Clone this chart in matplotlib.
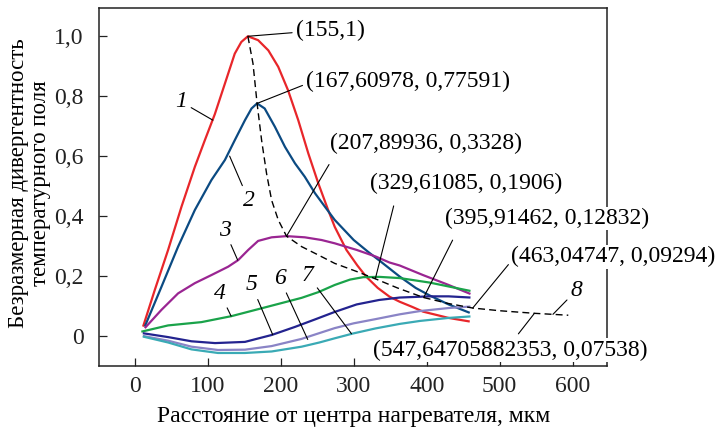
import matplotlib
matplotlib.use("Agg")
import matplotlib.pyplot as plt

plt.rcParams['font.family'] = ['Liberation Serif', 'DejaVu Serif']

# Кривые 1-7 (расстояние, мкм ; безразмерная дивергентность)
x1 = [11.4, 27.4, 45.7, 64, 82.3, 96, 109.7, 123.5, 137, 146, 155, 169, 183, 196.6, 210, 224, 237.8, 251.5, 265, 274, 290, 305, 317, 333, 349, 363, 380, 395, 430, 459]
y1 = [0.031, 0.153, 0.287, 0.431, 0.564, 0.653, 0.74, 0.842, 0.942, 0.981, 1.0, 0.987, 0.953, 0.898, 0.82, 0.72, 0.609, 0.509, 0.42, 0.364, 0.287, 0.235, 0.198, 0.16, 0.131, 0.114, 0.097, 0.081, 0.06, 0.048]

x2 = [13.7, 36.6, 59.4, 82.3, 105, 123.5, 137, 151, 160, 167.6, 178, 192, 205.8, 219.5, 233, 247, 260.6, 274, 300, 320, 336, 363, 385, 404, 430, 459]
y2 = [0.031, 0.164, 0.298, 0.42, 0.52, 0.587, 0.653, 0.72, 0.759, 0.776, 0.759, 0.698, 0.631, 0.576, 0.531, 0.476, 0.431, 0.387, 0.32, 0.28, 0.25, 0.198, 0.16, 0.135, 0.105, 0.077]

x3 = [13.7, 36.6, 59.4, 82.3, 105, 128, 141.7, 155.5, 169, 187.5, 207.9, 233, 256, 274, 304, 330, 349, 363, 395, 430, 460]
y3 = [0.026, 0.087, 0.142, 0.176, 0.203, 0.231, 0.253, 0.287, 0.317, 0.329, 0.333, 0.329, 0.32, 0.309, 0.287, 0.265, 0.245, 0.235, 0.203, 0.17, 0.14]

x4 = [9, 45.7, 91.4, 132.6, 183, 228.6, 251.5, 274, 295, 313, 335, 363, 404, 430, 460]
y4 = [0.014, 0.035, 0.046, 0.066, 0.098, 0.127, 0.146, 0.17, 0.188, 0.196, 0.197, 0.193, 0.178, 0.165, 0.15]

x5 = [11, 45.7, 77.7, 110, 151, 187.5, 219.5, 247, 274, 304, 335, 363, 404, 430, 460]
y5 = [0.009, -0.004, -0.018, -0.024, -0.02, 0.003, 0.03, 0.055, 0.08, 0.105, 0.12, 0.128, 0.132, 0.132, 0.128]

x6 = [11, 45.7, 77.7, 114, 151, 187.5, 228.6, 250, 274, 300, 330, 363, 391, 430, 460]
y6 = [0.0, -0.016, -0.036, -0.047, -0.046, -0.034, -0.01, 0.007, 0.026, 0.042, 0.056, 0.072, 0.083, 0.093, 0.098]

x7 = [11, 45.7, 77.7, 114, 151, 187.5, 228.6, 253, 274, 299, 330, 363, 391, 430, 460]
y7 = [-0.002, -0.022, -0.045, -0.057, -0.057, -0.052, -0.036, -0.022, -0.008, 0.008, 0.025, 0.04, 0.05, 0.06, 0.065]

# Кривая 8 - огибающая максимумов (штриховая)
x8 = [155, 162, 167.6, 173.8, 180.6, 187.5, 196.6, 207.9, 228.6, 251.5, 274, 304, 329.6, 360, 395.9, 430, 463, 500, 547.6, 594]
y8 = [1.0, 0.909, 0.776, 0.653, 0.542, 0.453, 0.387, 0.333, 0.298, 0.27, 0.242, 0.215, 0.1906, 0.16, 0.128, 0.108, 0.093, 0.084, 0.0754, 0.069]

colors = ['#e8262a', '#0b4a82', '#9a2592', '#1aa34a', '#23238f', '#8a84c6', '#3aaab5']

# Подписи максимумов
peak_x = [155, 167.60978, 207.89936, 329.61085, 395.91462, 463.04747, 547.64705882353]
peak_y = [1.0, 0.77591, 0.3328, 0.1906, 0.12832, 0.09294, 0.07538]
peak_text = ['(155,1)', '(167,60978, 0,77591)', '(207,89936, 0,3328)', '(329,61085, 0,1906)',
             '(395,91462, 0,12832)', '(463,04747, 0,09294)', '(547,64705882353, 0,07538)']
peak_text_pos = [(221, 1.02), (235, 0.848), (267, 0.643), (322, 0.509), (425, 0.392), (516, 0.264), (326, -0.047)]
peak_relpos = [(0, 0.4), (0, 0.4), (0.03, 0), (0.14, 0), (0.065, 0), (0, 0.3), (0.515, 1)]
peak_shrink = [2, 2, 8, 8, 8, 2, 4]

# Номера кривых
num_labels = ['1', '2', '3', '4', '5', '6', '7', '8']
num_pos = [(63.7, 0.781), (156, 0.453), (123, 0.353), (117, 0.142), (160, 0.17), (198.5, 0.192), (237, 0.203), (605.5, 0.153)]
num_xy = [(107, 0.72), (130, 0.6), (141, 0.253), (132, 0.066), (189, 0.004), (237, -0.012), (297, 0.007), (573, 0.072)]

fig = plt.figure(figsize=(7.2, 4.34), dpi=100)
ax = fig.add_axes([0.1375, 0.157, 0.7055, 0.825])

curves = [(x1, y1), (x2, y2), (x3, y3), (x4, y4), (x5, y5), (x6, y6), (x7, y7)]
for (xs, ys), c in zip(curves, colors):
    ax.plot(xs, ys, color=c, lw=1.6, solid_capstyle='butt', solid_joinstyle='round')
ax.plot(x8, y8, color='black', lw=1.0, ls=(0, (5, 3)))

for px, py, t, pos, rp, sh in zip(peak_x, peak_y, peak_text, peak_text_pos, peak_relpos, peak_shrink):
    ax.annotate(t, xy=(px, py), xytext=pos, fontsize=17, ha='left', va='center',
                bbox=dict(boxstyle='square,pad=0.05', fc='white', ec='none'),
                arrowprops=dict(arrowstyle='-', color='black', lw=0.8, relpos=rp,
                                shrinkA=sh, shrinkB=0),
                annotation_clip=False, zorder=5)

for t, pos, xy in zip(num_labels, num_pos, num_xy):
    ax.annotate(t, xy=xy, xytext=pos, fontsize=17, style='italic', ha='center', va='center',
                arrowprops=dict(arrowstyle='-', color='black', lw=0.8, shrinkA=1, shrinkB=0),
                annotation_clip=False, zorder=5)

ax.set_xlim(-49, 647)
ax.set_ylim(-0.1, 1.095)
ax.set_xticks([0, 100, 200, 300, 400, 500, 600])
ax.set_yticks([0, 0.2, 0.4, 0.6, 0.8, 1.0])
ax.set_yticklabels(['0', '0,2', '0,4', '0,6', '0,8', '1,0'])
ax.tick_params(direction='in', length=6, width=0.9, labelsize=17, colors='#222222')
ax.tick_params(axis='y', pad=11)
ax.tick_params(axis='x', pad=7)
for s in ax.spines.values():
    s.set_linewidth(1.1)
    s.set_color('#222222')

ax.set_xlabel('Расстояние от центра нагревателя, мкм', fontsize=17)
ax.set_ylabel('Безразмерная дивергентность\nтемпературного поля', fontsize=16.5, linespacing=1.05)
ax.xaxis.set_label_coords(0.502, -0.112)
ax.yaxis.set_label_coords(-0.095, 0.51)

fig.savefig('out.png', dpi=100)
